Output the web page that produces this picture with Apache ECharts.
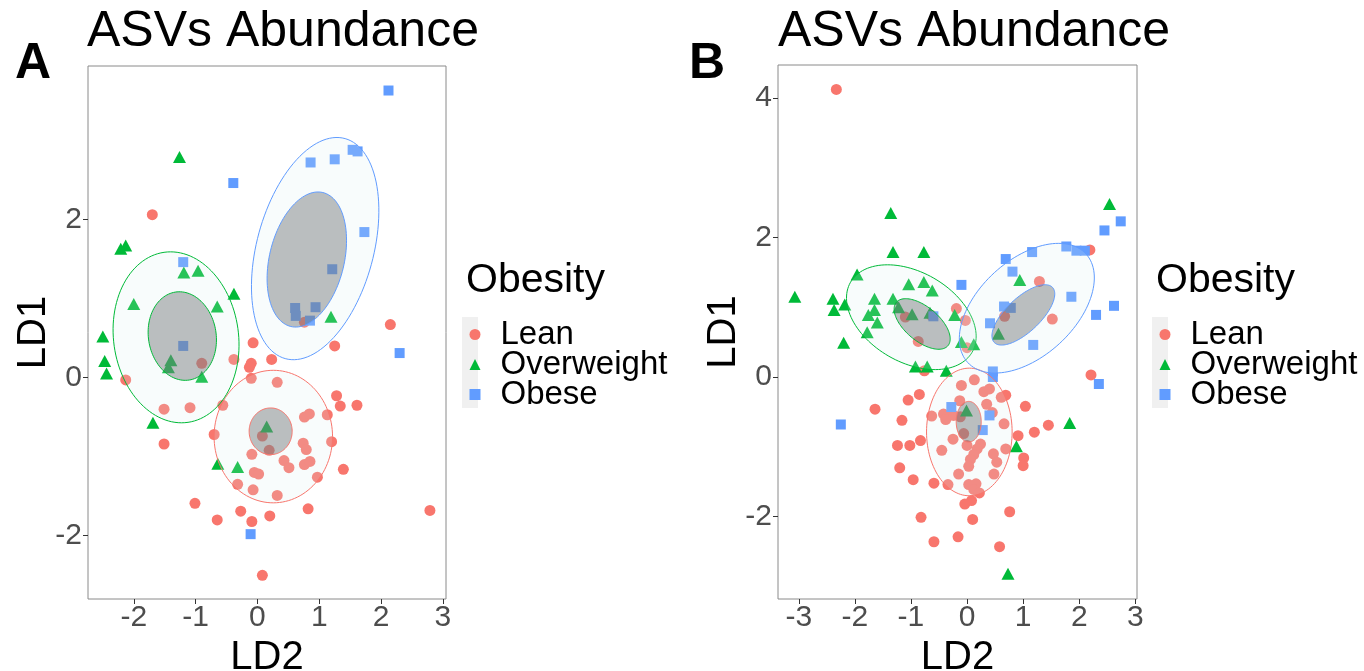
<!DOCTYPE html>
<html>
<head>
<meta charset="utf-8">
<title>ASVs Abundance</title>
<script src="https://cdn.jsdelivr.net/npm/echarts@6/dist/echarts.min.js"></script>
<style>
  html, body { margin: 0; padding: 0; background: #fff; }
  #chart { width: 1364px; height: 671px; }
</style>
</head>
<body>
<div id="chart"></div>
<script>
// groups, in legend order
var groups = ['Lean', 'Overweight', 'Obese'];

// tick labels
var aXTicks = [-2, -1, 0, 1, 2, 3];
var aYTicks = [-2, 0, 2];
var bXTicks = [-3, -2, -1, 0, 1, 2, 3];
var bYTicks = [-2, 0, 2, 4];

// panel A points [LD2, LD1]
var aLean = [
  [-1.70, 2.06], [2.15, 0.67], [0.76, 0.70], [-0.07, 0.44], [1.25, 0.40], [-0.90, 0.18],
  [-0.38, 0.23], [-0.10, 0.18], [-0.13, 0.13], [0.23, 0.23], [-2.13, -0.03], [-0.10, -0.01],
  [0.32, -0.06], [1.28, -0.23], [1.34, -0.36], [1.61, -0.35], [-1.51, -0.40], [-1.09, -0.38],
  [-0.56, -0.35], [0.76, -0.50], [0.84, -0.46], [1.13, -0.47], [-0.70, -0.72], [0.08, -0.74],
  [0.19, -0.92], [1.20, -0.81], [0.74, -0.83], [0.79, -0.91], [-1.51, -0.84], [-0.09, -0.97],
  [0.43, -1.05], [0.51, -1.14], [0.76, -1.10], [0.85, -1.06], [1.39, -1.16], [-0.05, -1.20],
  [0.02, -1.22], [0.97, -1.26], [-0.32, -1.35], [-0.07, -1.42], [0.32, -1.49], [0.82, -1.66],
  [-1.01, -1.59], [-0.27, -1.69], [0.20, -1.75], [-0.65, -1.80], [-0.09, -1.82], [2.79, -1.68],
  [0.08, -2.50]
];
var aOverweight = [
  [-1.26, 2.79], [-2.21, 1.63], [-2.13, 1.67], [-1.19, 1.33], [-0.96, 1.35], [-2.00, 0.93],
  [-0.38, 1.06], [-0.65, 0.90], [1.19, 0.77], [-2.50, 0.52], [-2.47, 0.21], [-2.44, 0.05],
  [-1.40, 0.22], [-1.44, 0.13], [-0.90, 0.01], [-1.69, -0.57], [0.15, -0.62], [-0.64, -1.09],
  [-0.32, -1.13]
];
var aObese = [
  [2.12, 3.63], [0.86, 2.72], [1.25, 2.76], [1.54, 2.88], [1.62, 2.86], [-0.39, 2.46],
  [1.73, 1.84], [1.21, 1.37], [-1.20, 1.46], [0.61, 0.88], [0.62, 0.78], [0.94, 0.89],
  [0.85, 0.72], [-1.20, 0.40], [2.30, 0.31], [-0.11, -1.98]
];

// panel B points [LD2, LD1]
var bLean = [
  [-2.33, 4.12], [2.19, 1.82], [1.29, 1.37], [1.52, 0.83], [0.67, 0.87], [-0.19, 0.98],
  [-0.03, 0.81], [-1.10, 0.86], [-0.63, 0.88], [-0.87, 0.51], [0.00, 0.42], [-0.76, 0.09],
  [2.21, 0.03], [0.13, -0.04], [-0.10, -0.12], [0.30, -0.21], [0.40, -0.17], [0.61, -0.29],
  [0.69, -0.26], [-0.85, -0.25], [-1.05, -0.33], [-1.64, -0.46], [-0.13, -0.34], [0.35, -0.39],
  [1.04, -0.42], [-1.16, -0.62], [-0.63, -0.56], [-0.42, -0.53], [-0.32, -0.55], [-0.38, -0.61],
  [-0.24, -0.55], [-0.12, -0.57], [0.45, -0.51], [0.66, -0.67], [1.45, -0.69], [1.20, -0.79],
  [0.91, -0.84], [-0.06, -0.81], [-0.25, -0.89], [-0.83, -0.91], [-1.24, -0.98], [-1.02, -0.98],
  [0.00, -0.98], [0.24, -0.96], [0.18, -1.03], [-0.45, -1.05], [0.69, -1.03], [0.47, -1.10],
  [0.12, -1.11], [0.06, -1.18], [0.53, -1.22], [1.01, -1.16], [1.00, -1.27], [0.03, -1.28],
  [-1.20, -1.30], [-0.15, -1.39], [0.48, -1.39], [-0.96, -1.47], [-0.59, -1.52], [-0.34, -1.54],
  [0.03, -1.54], [0.16, -1.53], [0.12, -1.61], [0.22, -1.66], [0.08, -1.77], [-0.04, -1.82],
  [0.76, -1.93], [-0.82, -2.01], [0.10, -2.04], [-0.16, -2.29], [-0.59, -2.36], [0.58, -2.43]
];
var bOverweight = [
  [-1.36, 2.35], [-1.32, 1.79], [-0.77, 1.79], [-1.96, 1.47], [-1.04, 1.33], [-0.77, 1.36],
  [-0.62, 1.24], [-2.39, 1.12], [-2.37, 0.96], [-2.18, 1.04], [-1.65, 1.12], [-1.32, 1.12],
  [-1.65, 0.96], [-1.76, 0.89], [-1.60, 0.78], [-1.78, 0.64], [-2.20, 0.49], [-1.22, 1.00],
  [-0.98, 0.90], [-0.66, 0.92], [-0.22, 0.89], [-0.10, 0.50], [0.12, 0.47], [-0.92, 0.15],
  [-0.71, 0.15], [-0.37, 0.09], [-3.07, 1.15], [2.54, 2.48], [0.94, 1.39], [0.56, 0.62],
  [-0.01, -0.48], [1.83, -0.66], [0.88, -0.99], [0.73, -2.82]
];
var bObese = [
  [2.74, 2.23], [2.45, 2.10], [1.77, 1.87], [1.95, 1.81], [2.10, 1.81], [1.16, 1.79],
  [0.69, 1.69], [0.81, 1.51], [-0.10, 1.32], [1.86, 1.15], [2.62, 1.02], [2.30, 0.89],
  [0.66, 1.01], [0.78, 0.99], [0.41, 0.77], [1.18, 0.46], [0.46, 0.08], [0.46, 0.00],
  [2.35, -0.10], [-2.25, -0.68], [-0.28, -0.43], [0.40, -0.55], [0.28, -0.76], [-0.60, 0.87]
];

// ellipses: [centreX, centreY, axis1X, axis1Y, axis2X, axis2Y], rows in group order
var aEllipseOuter = [
  [0.257, -0.746, 0.958, 0, 0, 0.838],
  [-1.316, 0.509, -0.194, 1.075, 1.0, 0.113],
  [0.934, 1.631, 0.485, 1.391, 0.909, -0.199]
];
var aEllipseInner = [
  [0.214, -0.679, 0.348, 0, 0, 0.295],
  [-1.215, 0.525, -0.113, 0.556, 0.541, 0.067],
  [0.799, 1.493, 0.259, 0.847, 0.588, -0.110]
];
var bEllipseOuter = [
  [0.041, -0.787, 0.763, 0, 0, 0.914],
  [-0.993, 0.857, 1.084, -0.501, -0.401, -0.559],
  [1.066, 0.986, 1.055, 0.777, 0.579, -0.509]
];
var bEllipseInner = [
  [0.03, -0.64, 0.223, 0, 0, 0.291],
  [-0.80, 0.76, 0.46, -0.311, -0.196, -0.186],
  [1.004, 0.890, 0.520, 0.394, 0.208, -0.178]
];

var COLORS = ['#F8766D', '#00BA38', '#619CFF'];
var SYMBOLS = ['circle', 'triangle', 'rect'];
var SIZES = [11, [13, 12], 10];
var FONT = 'Liberation Sans, Arial, sans-serif';

var chart = echarts.init(document.getElementById('chart'), null, { renderer: 'canvas' });

function ellipseRenderer(inner) {
  return function (params, api) {
    var cx = api.value(0), cy = api.value(1);
    var ux = api.value(2), uy = api.value(3);
    var vx = api.value(4), vy = api.value(5);
    var pts = [];
    for (var k = 0; k < 120; k++) {
      var t = k / 120 * Math.PI * 2;
      pts.push(api.coord([cx + ux * Math.cos(t) + vx * Math.sin(t),
                          cy + uy * Math.cos(t) + vy * Math.sin(t)]));
    }
    return {
      type: 'polygon',
      shape: { points: pts },
      style: {
        fill: inner ? 'rgba(100,104,108,0.42)' : 'rgba(215,238,238,0.18)',
        stroke: COLORS[params.dataIndex],
        lineWidth: 1
      }
    };
  };
}

function xAxis(idx, min, max, ticks) {
  return {
    type: 'value', gridIndex: idx, min: min, max: max,
    name: 'LD2', nameLocation: 'middle', nameGap: 33,
    nameTextStyle: { fontSize: 40, color: '#000', fontFamily: FONT },
    axisLine: { show: false, onZero: false },
    axisTick: { show: true, length: 5, lineStyle: { color: '#333' }, customValues: ticks },
    axisLabel: { fontSize: 30, color: '#4d4d4d', fontFamily: FONT, margin: 4, customValues: ticks },
    splitLine: { show: false }
  };
}
function yAxis(idx, min, max, ticks) {
  return {
    type: 'value', gridIndex: idx, min: min, max: max,
    name: 'LD1', nameLocation: 'middle', nameGap: 34, nameRotate: 90, nameMoveOverlap: false,
    nameTextStyle: { fontSize: 40, color: '#000', fontFamily: FONT },
    axisLine: { show: false, onZero: false },
    axisTick: { show: true, length: 5, lineStyle: { color: '#333' }, customValues: ticks },
    axisLabel: { fontSize: 30, color: '#4d4d4d', fontFamily: FONT, margin: 6, customValues: ticks },
    splitLine: { show: false }
  };
}

var panels = [
  { pts: [aLean, aOverweight, aObese], outer: aEllipseOuter, inner: aEllipseInner },
  { pts: [bLean, bOverweight, bObese], outer: bEllipseOuter, inner: bEllipseInner }
];

var series = [];
panels.forEach(function (p, pi) {
  p.pts.forEach(function (d, gi) {
    series.push({
      name: groups[gi], type: 'scatter', xAxisIndex: pi, yAxisIndex: pi,
      data: d, symbol: SYMBOLS[gi], symbolSize: SIZES[gi],
      itemStyle: { color: COLORS[gi], opacity: 1 }, z: 2
    });
  });
  series.push({
    type: 'custom', xAxisIndex: pi, yAxisIndex: pi, data: p.outer,
    renderItem: ellipseRenderer(false), silent: true, z: 3
  });
  series.push({
    type: 'custom', xAxisIndex: pi, yAxisIndex: pi, data: p.inner,
    renderItem: ellipseRenderer(true), silent: true, z: 4
  });
});

function legend(left) {
  return {
    orient: 'vertical', left: left, top: 313, itemWidth: 11, itemHeight: 11, itemGap: -3,
    selectedMode: false,
    data: groups.map(function (g, i) { return { name: g, icon: SYMBOLS[i] }; }),
    textStyle: { fontSize: 33, lineHeight: 30, color: '#000', fontFamily: FONT, padding: [0, 0, 0, 15] }
  };
}

var gridBase = { show: true, borderColor: '#8a8a8a', borderWidth: 1, backgroundColor: '#fff',
                 containLabel: false, outerBoundsMode: 'none' };

var option = {
  animation: false,
  backgroundColor: '#fff',
  title: [
    { text: 'ASVs Abundance', left: 82, top: 2, textStyle: { fontSize: 50, fontWeight: 'normal', color: '#000', fontFamily: FONT } },
    { text: 'ASVs Abundance', left: 773, top: 2, textStyle: { fontSize: 50, fontWeight: 'normal', color: '#000', fontFamily: FONT } },
    { text: 'A', left: 10, top: 34, textStyle: { fontSize: 50, fontWeight: 'bold', color: '#000', fontFamily: FONT } },
    { text: 'B', left: 684, top: 34, textStyle: { fontSize: 50, fontWeight: 'bold', color: '#000', fontFamily: FONT } },
    { text: 'Obesity', left: 461, top: 255, textStyle: { fontSize: 41, fontWeight: 'normal', color: '#000', fontFamily: FONT } },
    { text: 'Obesity', left: 1151, top: 255, textStyle: { fontSize: 41, fontWeight: 'normal', color: '#000', fontFamily: FONT } }
  ],
  grid: [
    Object.assign({ left: 88, top: 66, width: 358, height: 533 }, gridBase),
    Object.assign({ left: 778, top: 65, width: 359, height: 534 }, gridBase)
  ],
  xAxis: [xAxis(0, -2.74, 3.05, aXTicks), xAxis(1, -3.37, 3.03, bXTicks)],
  yAxis: [yAxis(0, -2.80, 3.94, aYTicks), yAxis(1, -3.18, 4.47, bYTicks)],
  legend: [legend(464.5), legend(1154.5)],
  graphic: [
    { type: 'rect', left: 462, top: 317, shape: { width: 16, height: 91 }, style: { fill: '#f0f0f0' }, z: -1 },
    { type: 'rect', left: 1152, top: 317, shape: { width: 16, height: 91 }, style: { fill: '#f0f0f0' }, z: -1 }
  ],
  series: series
};

chart.setOption(option);
</script>
</body>
</html>
